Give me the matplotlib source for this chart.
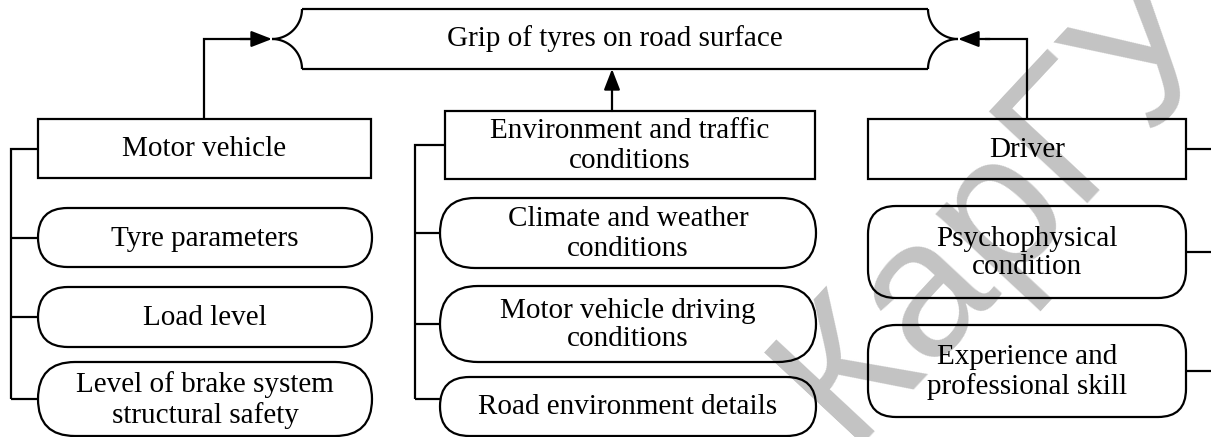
import numpy as np
import matplotlib
matplotlib.use("Agg")
import matplotlib.pyplot as plt
from matplotlib.patches import FancyBboxPatch, Rectangle

# labels of the diagram
top_label = "Grip of tyres on road surface"
group_labels = ["Motor vehicle", "Environment and traffic\nconditions", "Driver"]
vehicle_factors = ["Tyre parameters", "Load level",
                   "Level of brake system\nstructural safety"]
environment_factors = ["Climate and weather\nconditions",
                       "Motor vehicle driving\nconditions",
                       "Road environment details"]
driver_factors = ["Psychophysical\ncondition",
                  "Experience and\nprofessional skill"]
watermark = "КарГУ"

W, H = 1211, 437
LW = 1.6
FONT = dict(family="Liberation Serif", fontsize=21, linespacing=1.15,
            ha="center", va="center", zorder=5)

fig = plt.figure(figsize=(W / 100, H / 100), dpi=100)
ax = fig.add_axes([0, 0, 1, 1])
ax.set_xlim(0, W)
ax.set_ylim(H, 0)
ax.axis("off")

# watermark behind everything (runs past the right edge, as in the source)
wm = ax.text(1000, 205, watermark, family="Liberation Sans", fontsize=140,
             color="#c3c3c3", rotation=47, ha="center", va="center", zorder=0)
wm.set_clip_on(True)


def line(xs, ys):
    ax.plot(xs, ys, color="black", lw=LW, solid_capstyle="butt",
            solid_joinstyle="miter", zorder=3)


def rect(x0, y0, x1, y1, label):
    ax.add_patch(Rectangle((x0, y0), x1 - x0, y1 - y0, fill=False,
                           ec="black", lw=LW, zorder=3))
    ax.text((x0 + x1) / 2, (y0 + y1) / 2 + 1, label, **FONT)


def rbox(x0, y0, x1, y1, label, r=None):
    if r is None:
        r = (y1 - y0) / 2
    ax.add_patch(FancyBboxPatch((x0, y0), x1 - x0, y1 - y0,
                                boxstyle=f"round,pad=0,rounding_size={r}",
                                fill=False, ec="black", lw=LW, zorder=3))
    ax.text((x0 + x1) / 2, (y0 + y1) / 2 + 1, label, **FONT)


def arrow(start, tip):
    ax.annotate("", xy=tip, xytext=start,
                arrowprops=dict(arrowstyle="-|>,head_length=0.9,head_width=0.35",
                                color="black", lw=LW, shrinkA=0, shrinkB=0,
                                mutation_scale=14), zorder=4)


# top element with brace-like ends
top_y0, top_y1 = 9, 69
tip_l, tip_r, r = 272, 958, 30
mid = (top_y0 + top_y1) / 2
t = np.linspace(0, np.pi / 2, 40)
line([tip_l + r, tip_r - r], [top_y0, top_y0])
line([tip_l + r, tip_r - r], [top_y1, top_y1])
# left brace
line(tip_l + r * np.cos(t), top_y0 + r * np.sin(t))
line(tip_l + r * np.cos(t), top_y1 - r * np.sin(t))
# right brace
line(tip_r - r * np.cos(t), top_y0 + r * np.sin(t))
line(tip_r - r * np.cos(t), top_y1 - r * np.sin(t))
ax.text((tip_l + tip_r) / 2, mid, top_label, **FONT)

# group boxes
rect(38, 119, 371, 178, group_labels[0])
rect(445, 111, 815, 179, group_labels[1])
rect(868, 119, 1186, 179, group_labels[2])

# arrows into the top element
line([204, 204, 250], [119, mid, mid])
arrow((240, mid), (tip_l, mid))
line([1027, 1027, 985], [119, mid, mid])
arrow((990, mid), (tip_r, mid))
arrow((612, 111), (612, top_y1))

# motor vehicle factors
v_rows = [(208, 267), (287, 347), (362, 436)]
line([38, 11, 11], [149, 149, 399])
for (y0, y1), lab in zip(v_rows, vehicle_factors):
    rbox(38, y0, 372, y1, lab)
    line([11, 38], [(y0 + y1) / 2, (y0 + y1) / 2])

# environment factors
e_rows = [(198, 268), (286, 362), (377, 436)]
line([445, 415, 415], [145, 145, 399])
for (y0, y1), lab in zip(e_rows, environment_factors):
    rbox(440, y0, 816, y1, lab)
    yc = min((y0 + y1) / 2, 399)
    line([415, 440], [yc, yc])

# driver factors
d_rows = [(206, 298), (325, 417)]
line([1186, W], [149, 149])
for (y0, y1), lab in zip(d_rows, driver_factors):
    rbox(868, y0, 1186, y1, lab, r=28)
    line([1186, W], [(y0 + y1) / 2, (y0 + y1) / 2])

fig.savefig("out.png", dpi=100, facecolor="white")
